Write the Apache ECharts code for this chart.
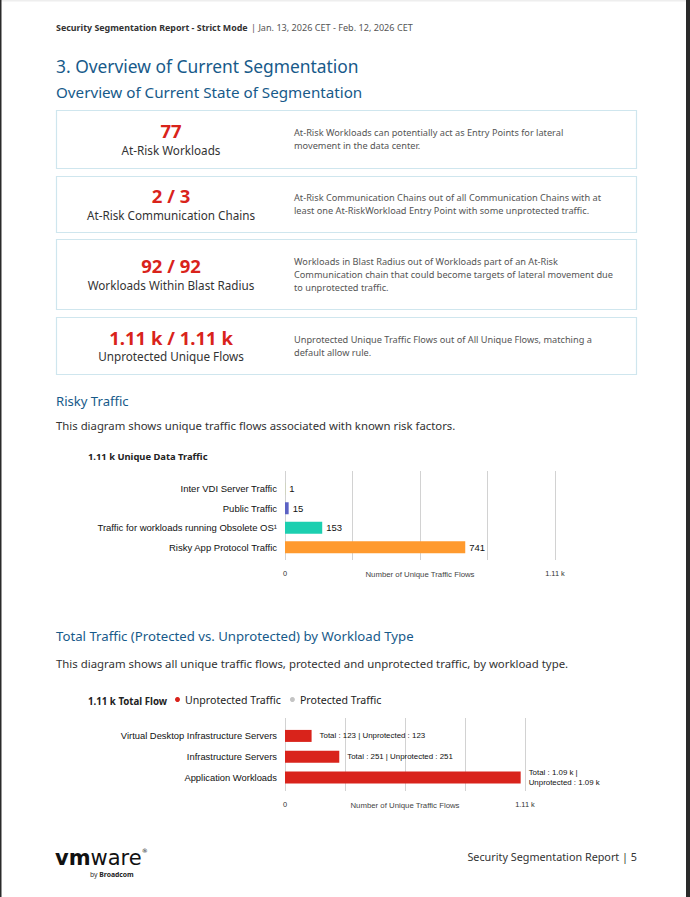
<!DOCTYPE html>
<html>
<head>
<meta charset="utf-8">
<script src="https://cdn.jsdelivr.net/npm/echarts@6/dist/echarts.min.js"></script>
<style>
html,body{margin:0;padding:0;background:#fff;}
#page{width:690px;height:897px;}
</style>
</head>
<body>
<div id="page"></div>
<script>
// ---- data ----
const headerTitle = 'Security Segmentation Report - Strict Mode';
const headerDates = '| Jan. 13, 2026 CET - Feb. 12, 2026 CET';
const cardValues = ['77', '2 / 3', '92 / 92', '1.11 k / 1.11 k'];
const cardLabels = ['At-Risk Workloads', 'At-Risk Communication Chains', 'Workloads Within Blast Radius', 'Unprotected Unique Flows'];
const cardDescriptions = [
  ['At-Risk Workloads can potentially act as Entry Points for lateral', 'movement in the data center.'],
  ['At-Risk Communication Chains out of all Communication Chains with at', 'least one At-RiskWorkload Entry Point with some unprotected traffic.'],
  ['Workloads in Blast Radius out of Workloads part of an At-Risk', 'Communication chain that could become targets of lateral movement due', 'to unprotected traffic.'],
  ['Unprotected Unique Traffic Flows out of All Unique Flows, matching a', 'default allow rule.']
];
const riskCategories = ['Inter VDI Server Traffic', 'Public Traffic', 'Traffic for workloads running Obsolete OS\u00b9', 'Risky App Protocol Traffic'];
const riskValues = [1, 15, 153, 741];
const riskAxisMax = 1110;
const workloadCategories = ['Virtual Desktop Infrastructure Servers', 'Infrastructure Servers', 'Application Workloads'];
const unprotectedValues = [123, 251, 1090];
const protectedValues = [0, 0, 0];
const totalAxisMax = 1110;
const axisName = 'Number of Unique Traffic Flows';

// ---- helpers ----
function fmt(v) {
  if (v >= 1000) return (Math.round(v / 10) / 100).toFixed(2) + ' k';
  return String(v);
}
const PAGE_FONT = 'Noto Sans';
const CHART_FONT = 'Liberation Sans';
const BLUE = '#175a8a';
const RED = '#d9231b';

const chart = echarts.init(document.getElementById('page'), null, {renderer: 'svg', width: 690, height: 897});

const graphics = [];
// viewer frame
graphics.push({type: 'rect', shape: {x: 0, y: 0, width: 690, height: 1.5}, style: {fill: '#eeeeee'}, silent: true});
graphics.push({type: 'rect', shape: {x: 0, y: 0, width: 1.5, height: 897}, style: {fill: '#2a2a2a'}, silent: true});
graphics.push({type: 'rect', shape: {x: 686, y: 0, width: 4, height: 897}, style: {fill: '#2a2a2a'}, silent: true});

function txt(x, y, text, font, fill, align) {
  graphics.push({type: 'text', x: x, y: y, silent: true,
    style: {text: text, font: font, fill: fill, align: align || 'left', verticalAlign: 'middle'}});
}

// header
graphics.push({type: 'text', x: 56, y: 27, silent: true, style: {
  text: '{a|' + headerTitle + '} {b|' + headerDates + '}', verticalAlign: 'middle',
  rich: {a: {fontFamily: PAGE_FONT, fontSize: 8.9, fontWeight: 'bold', fill: '#333'},
         b: {fontFamily: PAGE_FONT, fontSize: 9.1, fill: '#555'}}}});

txt(56, 66, '3. Overview of Current Segmentation', '17.4px ' + PAGE_FONT, BLUE);
txt(56, 92, 'Overview of Current State of Segmentation', '15.2px ' + PAGE_FONT, BLUE);

// cards
const cardBoxes = [[110, 58], [176, 56], [239, 70], [317, 57]];
cardBoxes.forEach(function (b, i) {
  const top = b[0], h = b[1];
  graphics.push({type: 'rect', silent: true, shape: {x: 56.5, y: top + 0.5, width: 580, height: h},
    style: {fill: '#fff', stroke: '#cfe6ee', lineWidth: 1.2}});
  const mid = top + h / 2;
  txt(171, mid - 8.5, cardValues[i], 'bold 18.5px ' + PAGE_FONT, RED, 'center');
  txt(171, mid + 10.5, cardLabels[i], '11.7px ' + PAGE_FONT, '#333', 'center');
  const lines = cardDescriptions[i];
  const lh = 13;
  const start = mid - (lines.length - 1) * lh / 2;
  lines.forEach(function (l, j) { txt(294, start + j * lh, l, '9.2px ' + PAGE_FONT, '#555'); });
});

// Risky traffic section
txt(56, 401, 'Risky Traffic', '13.1px ' + PAGE_FONT, BLUE);
txt(56, 425, 'This diagram shows unique traffic flows associated with known risk factors.', '11.35px ' + PAGE_FONT, '#333');
txt(88, 456, '1.11 k Unique Data Traffic', 'bold 9.4px ' + PAGE_FONT, '#222');

// Total traffic section
txt(56, 636, 'Total Traffic (Protected vs. Unprotected) by Workload Type', '13.2px ' + PAGE_FONT, BLUE);
txt(56, 663, 'This diagram shows all unique traffic flows, protected and unprotected traffic, by workload type.', '11.4px ' + PAGE_FONT, '#333');
txt(88, 701, '1.11 k Total Flow', 'bold 9.7px ' + PAGE_FONT, '#222');

// footer
graphics.push({type: 'text', x: 55, y: 858, silent: true, style: {
  text: '{a|vm}{b|ware}{c|\u00ae}', verticalAlign: 'middle',
  rich: {a: {fontFamily: 'DejaVu Sans', fontSize: 21, fontWeight: 'bold', fill: '#111'},
         b: {fontFamily: 'DejaVu Sans', fontSize: 21, fontWeight: 'normal', fill: '#111'},
         c: {fontFamily: 'DejaVu Sans', fontSize: 6, fill: '#111', verticalAlign: 'top', padding: [0, 0, 10, 0]}}}});
graphics.push({type: 'text', x: 90, y: 874, silent: true, style: {
  text: '{a|by }{b|Broadcom}', verticalAlign: 'middle',
  rich: {a: {fontFamily: PAGE_FONT, fontSize: 6.8, fill: '#333'},
         b: {fontFamily: PAGE_FONT, fontSize: 6.8, fontWeight: 'bold', fill: '#222'}}}});
txt(637, 856, 'Security Segmentation Report | 5', '10.8px ' + PAGE_FONT, '#333', 'right');

const riskColors = ['#c8d98c', '#5b62c4', '#1ccfb0', '#ff9a2e'];

function edgeLabels(max) {
  return function (v) {
    if (Math.abs(v) < 1e-6) return '0';
    if (Math.abs(v - max) < 1e-6) return fmt(max);
    return '';
  };
}

const option = {
  backgroundColor: '#ffffff',
  animation: false,
  graphic: graphics,
  legend: {
    left: 175, top: 694, padding: 0,
    icon: 'circle', itemWidth: 5, itemHeight: 5, itemGap: 9,
    selectedMode: false,
    data: [{name: 'Unprotected Traffic', itemStyle: {color: RED}}, {name: 'Protected Traffic', itemStyle: {color: '#c4c4c4'}}],
    textStyle: {fontFamily: PAGE_FONT, fontSize: 10.6, color: '#222', padding: [6, 0, 0, 0]}
  },
  grid: [
    {left: 285, width: 270, top: 479, height: 78},   // risky bars
    {left: 285, width: 270, top: 471, height: 89},   // risky gridlines
    {left: 285, width: 240, top: 725.5, height: 62.5}, // workload bars
    {left: 285, width: 240, top: 718, height: 73}    // workload gridlines
  ],
  xAxis: [
    {gridIndex: 0, type: 'value', min: 0, max: riskAxisMax, show: false},
    {gridIndex: 1, type: 'value', min: 0, max: riskAxisMax, interval: riskAxisMax / 4,
      axisLine: {show: false}, axisTick: {show: false},
      splitLine: {show: true, lineStyle: {color: '#d2d2d2', width: 1}},
      axisLabel: {formatter: edgeLabels(riskAxisMax), margin: 10, fontFamily: CHART_FONT, fontSize: 7.4, color: '#333'},
      name: axisName, nameLocation: 'middle', nameGap: 10, nameMoveOverlap: false,
      nameTextStyle: {fontFamily: CHART_FONT, fontSize: 7.8, color: '#444'}},
    {gridIndex: 2, type: 'value', min: 0, max: totalAxisMax, show: false},
    {gridIndex: 3, type: 'value', min: 0, max: totalAxisMax, interval: totalAxisMax / 4,
      axisLine: {show: false}, axisTick: {show: false},
      splitLine: {show: true, lineStyle: {color: '#d2d2d2', width: 1}},
      axisLabel: {formatter: edgeLabels(totalAxisMax), margin: 10, fontFamily: CHART_FONT, fontSize: 7.4, color: '#333'},
      name: axisName, nameLocation: 'middle', nameGap: 10, nameMoveOverlap: false,
      nameTextStyle: {fontFamily: CHART_FONT, fontSize: 7.8, color: '#444'}}
  ],
  yAxis: [
    {gridIndex: 0, type: 'category', inverse: true, data: riskCategories,
      axisLine: {show: false}, axisTick: {show: false}, splitLine: {show: false},
      axisLabel: {margin: 8, fontFamily: CHART_FONT, fontSize: 9.5, color: '#111'}},
    {gridIndex: 1, type: 'value', show: false},
    {gridIndex: 2, type: 'category', inverse: true, data: workloadCategories,
      axisLine: {show: false}, axisTick: {show: false}, splitLine: {show: false},
      axisLabel: {margin: 8, fontFamily: CHART_FONT, fontSize: 9.4, color: '#111'}},
    {gridIndex: 3, type: 'value', show: false}
  ],
  series: [
    {type: 'bar', name: 'Unique Data Traffic', xAxisIndex: 0, yAxisIndex: 0, barWidth: 12,
      data: riskValues.map(function (v, i) { return {value: v, itemStyle: {color: riskColors[i]}}; }),
      label: {show: true, position: 'right', distance: 4, fontFamily: CHART_FONT, fontSize: 9.5, color: '#111',
        formatter: function (p) { return fmt(p.value); }}},
    {type: 'bar', name: 'Unprotected Traffic', xAxisIndex: 2, yAxisIndex: 2, stack: 'total', barWidth: 12,
      itemStyle: {color: RED},
      data: unprotectedValues,
      label: {show: true, position: 'right', distance: 8, fontFamily: CHART_FONT, fontSize: 7.9, color: '#111', lineHeight: 10.5,
        formatter: function (p) {
          const total = p.value + protectedValues[p.dataIndex];
          const sep = total >= 1000 ? ' |\n' : ' | ';
          return 'Total : ' + fmt(total) + sep + 'Unprotected : ' + fmt(p.value);
        }}},
    {type: 'bar', name: 'Protected Traffic', xAxisIndex: 2, yAxisIndex: 2, stack: 'total', barWidth: 12,
      itemStyle: {color: '#c4c4c4'}, data: protectedValues, label: {show: false}}
  ]
};
chart.setOption(option);
</script>
</body>
</html>
